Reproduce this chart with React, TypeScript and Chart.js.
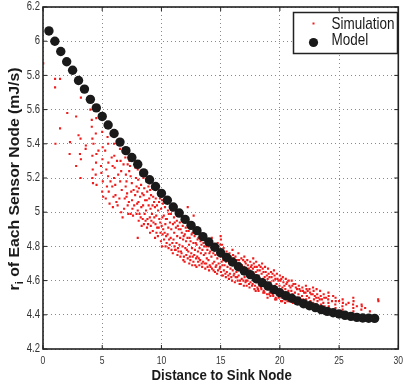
import { useEffect, useRef } from "react";
import { Chart, registerables } from "chart.js";
Chart.register(...registerables);

const xTicks = [0, 5, 10, 15, 20, 25, 30];
const xTickLabels = ["0", "5", "10", "15", "20", "25", "30"];
const yTicks = [4.2, 4.4, 4.6, 4.8, 5.0, 5.2, 5.4, 5.6, 5.8, 6.0, 6.2];
const yTickLabels = ["4.2", "4.4", "4.6", "4.8", "5", "5.2", "5.4", "5.6", "5.8", "6", "6.2"];
const xTitle = "Distance to Sink Node";
const yTitleMain = "r";
const yTitleSub = "i";
const yTitleRest = " of Each Sensor Node (mJ/s)";
const legendLabels = ["Simulation", "Model"];

const modelX = [0.5, 1, 1.5, 2, 2.5, 3, 3.5, 4, 4.5, 5, 5.5, 6, 6.5, 7, 7.5, 8, 8.5, 9, 9.5, 10, 10.5, 11, 11.5, 12, 12.5, 13, 13.5, 14, 14.5, 15, 15.5, 16, 16.5, 17, 17.5, 18, 18.5, 19, 19.5, 20, 20.5, 21, 21.5, 22, 22.5, 23, 23.5, 24, 24.5, 25, 25.5, 26, 26.5, 27, 27.5, 28];
const modelY = [6.06, 6.0, 5.94, 5.88, 5.83, 5.77, 5.72, 5.66, 5.61, 5.56, 5.51, 5.46, 5.41, 5.36, 5.32, 5.28, 5.23, 5.19, 5.15, 5.11, 5.07, 5.03, 4.995, 4.958, 4.923, 4.892, 4.857, 4.826, 4.795, 4.763, 4.736, 4.709, 4.681, 4.656, 4.635, 4.611, 4.588, 4.568, 4.547, 4.529, 4.512, 4.497, 4.481, 4.465, 4.453, 4.442, 4.43, 4.42, 4.412, 4.405, 4.397, 4.391, 4.385, 4.381, 4.38, 4.379];

const simulationNear: [number, number][] = [
  [0.02,5.87],[1.02,5.78],[1.44,5.78],[1.02,5.73],[1.44,5.49],[1.05,5.40],[2.05,5.58],[2.28,5.41],[2.25,5.34],[2.8,5.56],[2.8,5.27],[3.0,5.45],[3.17,5.43],[3.12,5.34],[3.2,5.31],[3.17,5.20],[3.2,5.67],[3.62,5.39],[3.6,5.37],[4.0,5.60],[4.12,5.54],[4.12,5.50],[4.17,5.43],[4.26,5.40],[4.17,5.33],[4.2,5.25],[4.17,5.20],[4.22,5.17],[4.46,5.46],[4.5,5.55],[4.51,5.34],[4.48,5.29],[4.45,5.22],[4.52,5.16],[4.68,5.36],[4.9,5.27],[4.93,5.23],[5.04,5.38],[5.0,5.47],[5.02,5.31],[5.05,5.18],[5.0,5.12],[5.08,5.09],[5.3,5.08],[5.45,5.44],[5.5,5.40],[5.52,5.29],[5.5,5.21],[5.55,5.12],[5.62,5.05],[5.8,5.32],[5.88,5.27],[5.9,5.03],[5.85,5.15],[6.0,5.40],[6.02,5.33],[6.05,5.26],[6.0,5.20],[6.1,5.16],[6.12,5.10],[6.2,5.06],[6.3,5.04],
  [6.4,5.40],[6.5,5.37],[6.55,5.30],[6.6,5.24],[6.52,5.18],[6.65,5.13],[6.6,5.00],[6.72,4.97],[6.9,5.08],[7.0,5.22],[7.05,5.18],[6.98,5.15],[7.1,5.11],[7.15,5.04],[7.2,4.99],[7.3,5.30],[7.35,5.27],[7.28,5.24],[7.4,5.21],[7.5,5.17],[7.45,5.12],[7.52,5.07],[7.55,5.02],[7.6,4.98],[7.75,5.30],[7.8,5.26],[7.85,5.20],[7.9,5.15],[7.78,5.10],[7.95,5.05]
];

const simulationMid: [number, number][] = [
  [8.0,5.25],[8.04,5.19],[7.98,5.12],[8.06,5.06],[8.0,5.01],[8.08,4.95],[8.0,4.85],
  [8.22,5.22],[8.28,5.16],[8.2,5.09],[8.3,5.03],[8.25,4.97],[8.33,4.92],
  [8.48,5.20],[8.55,5.14],[8.5,5.10],[8.45,5.04],[8.58,4.99],[8.52,4.93],
  [8.72,5.18],[8.8,5.12],[8.76,5.07],[8.7,5.01],[8.82,4.96],[8.78,4.91],
  [9.0,5.17],[9.05,5.13],[8.97,5.08],[9.08,5.02],[9.02,4.97],[9.1,4.92],[9.04,4.88],
  [9.22,5.14],[9.3,5.09],[9.25,5.04],[9.2,4.99],[9.33,4.94],[9.27,4.89],
  [9.48,5.13],[9.52,5.08],[9.45,5.03],[9.56,4.98],[9.5,4.93],[9.58,4.88],[9.46,4.85],
  [9.74,5.11],[9.8,5.06],[9.72,5.01],[9.82,4.96],[9.77,4.91],[9.7,4.86],
  [10.0,5.12],[10.05,5.07],[9.97,5.02],[10.08,4.97],[10.02,4.92],[10.1,4.87],[9.96,4.83],[10.04,4.80],
  [10.24,5.07],[10.3,5.03],[10.2,4.98],[10.33,4.93],[10.27,4.88],[10.22,4.84],[10.35,4.80],
  [10.5,5.06],[10.55,5.01],[10.46,4.96],[10.58,4.91],[10.52,4.87],[10.44,4.82],[10.6,4.79],
  [10.75,5.04],[10.8,4.99],[10.72,4.94],[10.83,4.90],[10.78,4.85],[10.7,4.81],[10.85,4.78],
  [11.0,5.02],[11.06,4.97],[10.97,4.93],[11.08,4.88],[11.02,4.84],[11.1,4.80],[10.96,4.76],
  [11.25,5.00],[11.3,4.95],[11.22,4.91],[11.33,4.86],[11.27,4.82],[11.2,4.78],[11.35,4.75],
  [11.5,4.98],[11.55,4.94],[11.46,4.90],[11.58,4.85],[11.52,4.81],[11.44,4.77],[11.6,4.74],
  [11.75,4.96],[11.8,4.92],[11.72,4.88],[11.83,4.84],[11.78,4.80],[11.7,4.76],[11.85,4.72],
  [12.0,4.95],[12.05,4.91],[11.97,4.87],[12.08,4.83],[12.02,4.79],[12.1,4.75],[11.96,4.71],
  [12.22,5.03],[12.25,4.93],[12.3,4.89],[12.2,4.85],[12.33,4.81],[12.27,4.77],[12.22,4.73],[12.35,4.70],
  [12.5,4.91],[12.55,4.87],[12.46,4.83],[12.58,4.79],[12.52,4.76],[12.44,4.72],[12.6,4.69],
  [12.72,4.98],[12.75,4.90],[12.8,4.86],[12.7,4.82],[12.83,4.78],[12.77,4.75],[12.7,4.71],[12.85,4.69],
  [13.0,4.88],[13.05,4.84],[12.97,4.81],[13.08,4.77],[13.02,4.74],[13.1,4.71],[12.96,4.68],
  [13.25,4.87],[13.3,4.83],[13.22,4.79],[13.33,4.76],[13.27,4.72],[13.2,4.69],
  [13.5,4.85],[13.55,4.82],[13.46,4.78],[13.58,4.75],[13.52,4.71],[13.44,4.68],
  [13.75,4.83],[13.8,4.80],[13.72,4.76],[13.83,4.73],[13.78,4.70],[13.7,4.67]
];

const simulationFar: [number, number][] = [
  [14.0,4.80],[14.05,4.76],[13.97,4.72],[14.08,4.69],[14.02,4.66],
  [14.25,4.85],[14.3,4.78],[14.22,4.74],[14.33,4.70],[14.27,4.67],
  [14.5,4.78],[14.55,4.75],[14.46,4.71],[14.58,4.68],[14.52,4.65],
  [14.75,4.82],[14.8,4.77],[14.72,4.73],[14.83,4.70],[14.78,4.66],[14.7,4.64],
  [15.0,4.86],[15.02,4.84],[14.97,4.81],[15.05,4.78],[15.0,4.74],[15.08,4.71],[14.96,4.68],[15.03,4.65],[15.1,4.63],
  [15.25,4.79],[15.3,4.76],[15.22,4.72],[15.33,4.69],[15.27,4.66],[15.2,4.63],
  [15.5,4.77],[15.55,4.74],[15.46,4.71],[15.58,4.68],[15.52,4.65],[15.44,4.62],
  [15.75,4.76],[15.8,4.73],[15.72,4.70],[15.83,4.67],[15.78,4.64],[15.7,4.61],
  [16.0,4.78],[16.05,4.75],[15.97,4.72],[16.08,4.69],[16.02,4.66],[16.1,4.63],[15.96,4.60],
  [16.25,4.74],[16.3,4.71],[16.22,4.68],[16.33,4.65],[16.27,4.62],[16.2,4.59],
  [16.5,4.76],[16.55,4.72],[16.46,4.70],[16.58,4.66],[16.52,4.63],[16.44,4.60],[16.6,4.58],
  [16.75,4.73],[16.8,4.69],[16.72,4.67],[16.83,4.64],[16.78,4.61],[16.7,4.58],
  [17.0,4.74],[17.05,4.71],[16.97,4.68],[17.08,4.65],[17.02,4.62],[17.1,4.59],[16.96,4.57],
  [17.25,4.72],[17.3,4.69],[17.22,4.66],[17.33,4.63],[17.27,4.60],[17.2,4.57],
  [17.5,4.71],[17.55,4.68],[17.46,4.66],[17.58,4.62],[17.52,4.59],[17.44,4.56],
  [17.75,4.73],[17.8,4.70],[17.72,4.67],[17.83,4.64],[17.78,4.61],[17.7,4.58],[17.85,4.55],
  [18.0,4.71],[18.05,4.68],[17.97,4.65],[18.08,4.62],[18.02,4.59],[18.1,4.56],[17.96,4.54],
  [18.25,4.69],[18.3,4.66],[18.22,4.63],[18.33,4.60],[18.27,4.57],[18.2,4.54],
  [18.5,4.70],[18.55,4.67],[18.46,4.64],[18.58,4.61],[18.52,4.58],[18.44,4.55],[18.6,4.53],
  [18.75,4.68],[18.8,4.65],[18.72,4.62],[18.83,4.59],[18.78,4.56],[18.7,4.53],
  [19.0,4.67],[19.05,4.64],[18.97,4.61],[19.08,4.58],[19.02,4.55],[19.1,4.52],[18.96,4.50],
  [19.25,4.65],[19.3,4.62],[19.22,4.59],[19.33,4.56],[19.27,4.53],[19.2,4.51],
  [19.5,4.66],[19.55,4.63],[19.46,4.60],[19.58,4.57],[19.52,4.54],[19.44,4.51],[19.6,4.49],
  [19.75,4.64],[19.8,4.61],[19.72,4.58],[19.83,4.55],[19.78,4.52],[19.7,4.49],
  [20.0,4.63],[20.05,4.60],[19.97,4.57],[20.08,4.54],[20.02,4.51],[20.1,4.48],
  [20.25,4.62],[20.3,4.59],[20.22,4.56],[20.33,4.53],[20.27,4.50],[20.2,4.48],
  [20.5,4.61],[20.55,4.58],[20.46,4.55],[20.58,4.52],[20.52,4.49],[20.44,4.47],
  [20.75,4.60],[20.8,4.57],[20.72,4.54],[20.83,4.51],[20.78,4.48],
  [21.0,4.60],[21.05,4.57],[20.97,4.54],[21.08,4.52],[21.02,4.49],[21.1,4.47],
  [21.3,4.58],[21.35,4.56],[21.27,4.53],[21.38,4.50],[21.32,4.48],
  [21.6,4.57],[21.65,4.55],[21.57,4.52],[21.68,4.50],[21.62,4.48],
  [21.9,4.56],[21.95,4.54],[21.87,4.51],[21.98,4.49],[21.92,4.47],
  [22.2,4.57],[22.25,4.55],[22.17,4.53],[22.28,4.51],[22.22,4.49],[22.15,4.47],
  [22.5,4.55],[22.55,4.53],[22.47,4.50],[22.58,4.48],[22.52,4.46],
  [22.8,4.56],[22.85,4.54],[22.77,4.52],[22.88,4.49],[22.82,4.47],
  [23.1,4.55],[23.15,4.52],[23.07,4.50],[23.18,4.48],[23.12,4.46],
  [23.4,4.54],[23.45,4.51],[23.37,4.49],[23.48,4.46],
  [23.7,4.52],[23.75,4.50],[23.67,4.47],[23.78,4.45],
  [24.1,4.53],[24.12,4.51],[24.08,4.49],[24.1,4.47],[24.13,4.45],[24.09,4.44],
  [24.7,4.50],[24.72,4.48],[24.68,4.46],[24.7,4.44],
  [25.3,4.49],[25.32,4.47],[25.28,4.45],[25.3,4.43],
  [26.2,4.50],[26.22,4.48],[26.18,4.46],[26.2,4.44],[26.21,4.42],
  [26.9,4.46],[26.92,4.45],[26.88,4.43],
  [27.6,4.42],
  [28.3,4.49],[28.32,4.48]
];

const simulationExtra: [number, number][] = [
  [5.25,5.36],[5.35,5.25],[5.7,5.18],[5.95,5.09],[6.25,5.30],[6.35,5.22],[6.45,5.08],[6.8,5.28],[6.85,5.02],[7.05,5.09],[7.25,5.06],[7.4,4.99],[7.65,5.13],[7.7,5.04],[7.9,4.99],[6.95,5.32],[7.15,5.28],[5.4,5.15],
  [8.1,5.14],[8.15,4.99],[8.38,5.11],[8.42,4.96],[8.62,5.07],[8.66,4.95],[8.9,5.15],[8.92,5.04],[8.87,4.93],[9.12,5.10],[9.15,4.95],[9.38,5.06],[9.4,4.97],[9.62,5.04],[9.64,4.91],[9.88,5.08],[9.9,4.94],[9.92,4.88],
  [10.12,5.05],[10.15,4.90],[10.38,4.96],[10.4,4.86],[10.62,4.99],[10.65,4.84],[10.9,5.01],[10.92,4.82],[11.12,4.94],[11.15,4.78],[11.38,4.92],[11.4,4.79],[11.62,4.90],[11.65,4.77],[11.88,4.86],[11.9,4.74],
  [12.12,4.89],[12.15,4.78],[12.38,4.85],[12.4,4.74],[12.62,4.88],[12.64,4.74],[12.9,4.82],[12.92,4.73],[13.12,4.85],[13.15,4.73],[13.38,4.81],[13.4,4.70],[13.62,4.80],[13.65,4.70],[13.88,4.78],[13.9,4.68],
  [14.12,4.77],[14.15,4.68],[14.38,4.76],[14.4,4.66],[14.62,4.80],[14.64,4.69],[14.9,4.76],[14.92,4.67],[15.12,4.81],[15.15,4.69],[15.38,4.74],[15.4,4.64],[15.62,4.75],[15.65,4.63],[15.88,4.74],[15.9,4.62],
  [16.12,4.73],[16.15,4.64],[16.38,4.72],[16.4,4.62],[16.62,4.70],[16.64,4.60],[16.9,4.72],[16.92,4.60],[17.12,4.70],[17.15,4.60],[17.38,4.67],[17.4,4.58],[17.62,4.69],[17.65,4.57],[17.88,4.68],[17.9,4.57],
  [18.12,4.66],[18.15,4.55],[18.38,4.68],[18.4,4.56],[18.62,4.65],[18.64,4.54],[18.9,4.63],[18.92,4.52],[19.12,4.62],[19.15,4.53],[19.38,4.64],[19.4,4.52],[19.62,4.61],[19.65,4.50],[19.88,4.60],[19.9,4.50],
  [20.12,4.61],[20.15,4.50],[20.38,4.57],[20.4,4.49],[20.62,4.59],[20.64,4.48],[20.9,4.56],[20.92,4.48],[21.15,4.58],[21.18,4.50],[21.45,4.55],[21.48,4.49],[21.75,4.54],[21.78,4.48],[22.05,4.53],[22.35,4.54],[22.65,4.52],[22.95,4.51],[23.25,4.50],[23.55,4.49],
  [23.9,4.50],[24.4,4.48],[24.5,4.51],[25.0,4.48],[25.6,4.46],[25.8,4.47],[26.5,4.45],[27.2,4.44]
];

const RED = "#f01c1c";
const BLACK = "#1a1a1a";
const FONT = "'Liberation Sans', Arial, Helvetica, sans-serif";

const decorPlugin = {
  id: "decor",
  afterDraw(chart: any) {
    const ctx = chart.ctx as CanvasRenderingContext2D;
    const { left, right, top, bottom } = chart.chartArea;
    const xs = chart.scales.x;
    const ys = chart.scales.y;
    ctx.save();
    ctx.strokeStyle = "#222";
    ctx.lineWidth = 1.6;
    ctx.strokeRect(left, top, right - left, bottom - top);
    ctx.lineWidth = 1;
    ctx.beginPath();
    xTicks.forEach((v) => {
      const px = xs.getPixelForValue(v);
      ctx.moveTo(px, bottom);
      ctx.lineTo(px, bottom - 4);
      ctx.moveTo(px, top);
      ctx.lineTo(px, top + 4);
    });
    yTicks.forEach((v) => {
      const py = ys.getPixelForValue(v);
      ctx.moveTo(left, py);
      ctx.lineTo(left + 4, py);
      ctx.moveTo(right, py);
      ctx.lineTo(right - 4, py);
    });
    ctx.stroke();

    ctx.fillStyle = "#333";
    ctx.font = `9.5px ${FONT}`;
    ctx.textAlign = "center";
    ctx.textBaseline = "top";
    xTicks.forEach((v, i) => {
      const px = xs.getPixelForValue(v);
      ctx.save();
      ctx.translate(px, bottom + 6);
      ctx.scale(0.9, 1.2);
      ctx.fillText(xTickLabels[i], 0, 0);
      ctx.restore();
    });
    ctx.textAlign = "right";
    ctx.textBaseline = "middle";
    yTicks.forEach((v, i) => {
      const py = ys.getPixelForValue(v);
      ctx.save();
      ctx.translate(left - 3, py);
      ctx.scale(1, 1.25);
      ctx.fillText(yTickLabels[i], 0, 0);
      ctx.restore();
    });

    ctx.fillStyle = "#1a1a1a";
    ctx.font = `bold 13.3px ${FONT}`;
    ctx.textAlign = "center";
    ctx.textBaseline = "alphabetic";
    ctx.save();
    ctx.translate((left + right) / 2 + 1, 380);
    ctx.scale(1, 1.12);
    ctx.fillText(xTitle, 0, 0);
    ctx.restore();

    const mainFont = `bold 14px ${FONT}`;
    const subFont = `bold 10px ${FONT}`;
    ctx.font = mainFont;
    const wR = ctx.measureText(yTitleMain).width;
    const wRest = ctx.measureText(yTitleRest).width;
    ctx.font = subFont;
    const wI = ctx.measureText(yTitleSub).width;
    const total = wR + wI + wRest;
    const target = 223;
    const sx = target / total;
    ctx.save();
    ctx.translate(18.5, (top + bottom) / 2 + 1);
    ctx.rotate(-Math.PI / 2);
    ctx.scale(sx, 1);
    ctx.textAlign = "left";
    ctx.textBaseline = "alphabetic";
    let cx = -total / 2;
    ctx.font = mainFont;
    ctx.fillText(yTitleMain, cx, 0);
    cx += wR;
    ctx.font = subFont;
    ctx.fillText(yTitleSub, cx, 4);
    cx += wI;
    ctx.font = mainFont;
    ctx.fillText(yTitleRest, cx, 0);
    ctx.restore();

    const lx = 293.5, ly = 12.5, lw = 104, lh = 41;
    ctx.fillStyle = "#fff";
    ctx.fillRect(lx, ly, lw, lh);
    ctx.strokeStyle = "#222";
    ctx.lineWidth = 1.5;
    ctx.strokeRect(lx, ly, lw, lh);
    ctx.fillStyle = RED;
    ctx.fillRect(312.5, 22.5, 2, 2);
    ctx.fillStyle = BLACK;
    ctx.beginPath();
    ctx.arc(313.5, 42.5, 4.6, 0, Math.PI * 2);
    ctx.fill();
    ctx.fillStyle = "#1a1a1a";
    ctx.font = `13.5px ${FONT}`;
    ctx.textAlign = "left";
    ctx.textBaseline = "middle";
    [24.5, 40.5].forEach((yy, i) => {
      ctx.save();
      ctx.translate(331.5, yy);
      ctx.scale(1, 1.2);
      ctx.fillText(legendLabels[i], 0, 0);
      ctx.restore();
    });
    ctx.restore();
  },
};

export default function App() {
  const ref = useRef<HTMLCanvasElement | null>(null);
  useEffect(() => {
    document.body.style.margin = "0";
    const canvas = ref.current;
    if (!canvas) return;
    const toPts = (arr: [number, number][]) => arr.map(([x, y]) => ({ x, y }));
    const simulation = [
      ...toPts(simulationNear),
      ...toPts(simulationMid),
      ...toPts(simulationFar),
      ...toPts(simulationExtra),
    ];
    const model = modelX.map((x, i) => ({ x, y: modelY[i] }));
    const chart = new Chart(canvas, {
      type: "scatter",
      data: {
        datasets: [
          {
            label: legendLabels[1],
            data: model,
            pointRadius: 4.7,
            pointBackgroundColor: BLACK,
            pointBorderWidth: 0,
            pointBorderColor: BLACK,
            showLine: false,
          },
          {
            label: legendLabels[0],
            data: simulation,
            pointRadius: 1.5,
            pointStyle: "rect",
            pointBackgroundColor: RED,
            pointBorderWidth: 0,
            pointBorderColor: RED,
            showLine: false,
          },
        ],
      },
      options: {
        animation: false,
        responsive: false,
        devicePixelRatio: 1,
        layout: { padding: { left: 43, right: 2, top: 7, bottom: 36 } },
        plugins: { legend: { display: false }, tooltip: { enabled: false } },
        scales: {
          x: {
            type: "linear",
            min: 0,
            max: 30,
            afterBuildTicks: (s: any) => {
              s.ticks = xTicks.map((v) => ({ value: v }));
            },
            afterFit: (s: any) => {
              s.height = 0;
            },
            ticks: { display: false },
            grid: { color: "#8a8a8a", lineWidth: 1, drawTicks: false },
            border: { display: false, dash: [1, 3] },
          },
          y: {
            type: "linear",
            min: 4.2,
            max: 6.2,
            afterBuildTicks: (s: any) => {
              s.ticks = yTicks.map((v) => ({ value: v }));
            },
            afterFit: (s: any) => {
              s.width = 0;
            },
            ticks: { display: false },
            grid: { color: "#8a8a8a", lineWidth: 1, drawTicks: false },
            border: { display: false, dash: [1, 3] },
          },
        },
      },
      plugins: [decorPlugin],
    });
    return () => chart.destroy();
  }, []);
  return (
    <div style={{ width: 403, height: 385 }}>
      <canvas ref={ref} width={403} height={385} style={{ display: "block" }} />
    </div>
  );
}
